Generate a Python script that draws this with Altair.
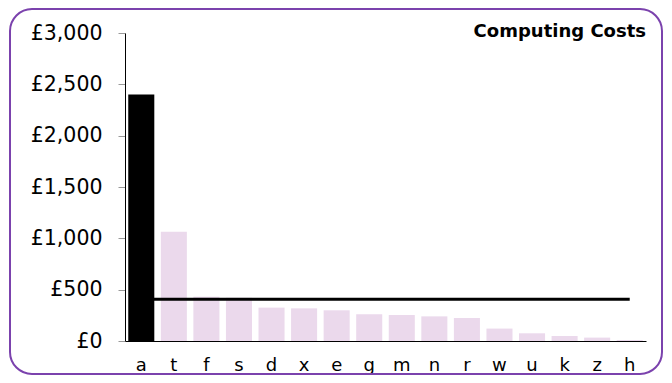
import altair as alt
import pandas as pd

categories = ["a", "t", "f", "s", "d", "x", "e", "g", "m", "n", "r", "w", "u", "k", "z", "h"]
costs = [2400, 1064, 432, 422, 325, 318, 299, 260, 253, 240, 224, 121, 75, 49, 33, 10]
highlight = "a"
average_value = [406]
line_from = ["a"]
line_to = ["h"]
y_ticks = [0, 500, 1000, 1500, 2000, 2500, 3000]
title_text = "Computing Costs"

W, H = 521, 308
FONT = "DejaVu Sans"

bars_df = pd.DataFrame({"cat": categories, "cost": costs})
line_df = pd.DataFrame({"from": line_from, "to": line_to, "avg": average_value})
one = pd.DataFrame({"t": [title_text]})

xscale = alt.Scale(domain=categories, paddingInner=0.2, paddingOuter=0.1)
yscale = alt.Scale(domain=[0, 3000], nice=False)

border = alt.Chart(one).mark_rect(
    fill=None, stroke="#7b42ad", strokeWidth=2, cornerRadius=22
).encode(
    x=alt.value(-115), x2=alt.value(537), y=alt.value(-24), y2=alt.value(341)
)

bars = alt.Chart(bars_df).mark_bar().encode(
    x=alt.X("cat:N", sort=None, scale=xscale, title=None,
            axis=alt.Axis(labelAngle=0, ticks=False, domainColor="black",
                          labelFont=FONT, labelFontSize=18, labelColor="black",
                          labelPadding=15, grid=False)),
    y=alt.Y("cost:Q", scale=yscale, title=None,
            axis=alt.Axis(values=y_ticks, labelExpr="'£' + format(datum.value, ',')",
                          grid=False, tickColor="#999999", tickSize=7,
                          domainColor="black", labelFont=FONT, labelFontSize=20.5,
                          labelColor="black", labelPadding=16)),
    color=alt.condition(alt.datum.cat == highlight, alt.value("black"), alt.value("#ebd9ec")),
)

rule = alt.Chart(line_df).mark_rule(color="black", strokeWidth=3).encode(
    x=alt.X("from:N", scale=xscale),
    x2="to:N",
    y=alt.Y("avg:Q", scale=yscale),
)

title = alt.Chart(one).mark_text(
    align="right", baseline="alphabetic", font=FONT, fontSize=18, fontWeight="bold", color="black"
).encode(x=alt.value(W), y=alt.value(4), text="t:N")

chart = alt.layer(border, bars, rule, title).properties(
    width=W, height=H,
    background="white",
    autosize=alt.AutoSizeParams(type="none"),
    padding={"left": 117, "top": 25, "right": 18, "bottom": 34},
).configure_view(strokeWidth=0, stroke="transparent").configure_axis(grid=False)

chart.save("out.html", embed_options={"renderer": "svg", "actions": False})
